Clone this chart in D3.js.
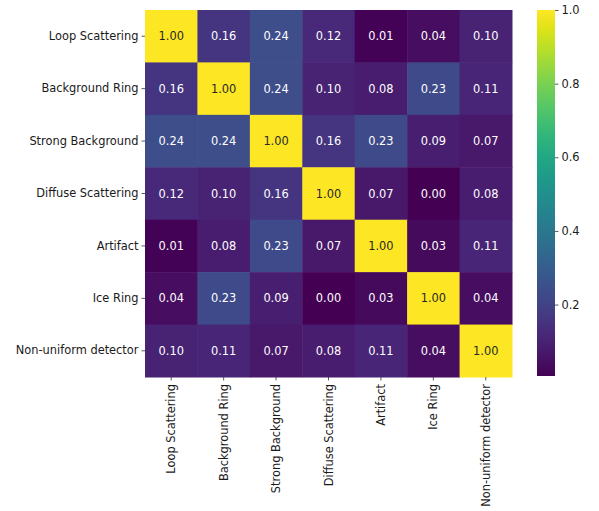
<!DOCTYPE html>
<html>
<head>
<meta charset="utf-8">
<script src="https://cdn.jsdelivr.net/npm/d3@7"></script>
<style>
  html, body { margin: 0; padding: 0; background: #fff; }
  svg { display: block; font-family: "DejaVu Sans", sans-serif; }
</style>
</head>
<body>
<svg id="chart" width="599" height="511"></svg>
<script>
// Category labels (rows and columns share the same order)
const categories = [
  "Loop Scattering", "Background Ring", "Strong Background",
  "Diffuse Scattering", "Artifact", "Ice Ring", "Non-uniform detector"
];

// Correlation matrix, one row per category
const row0 = [1.00, 0.16, 0.24, 0.12, 0.01, 0.04, 0.10];
const row1 = [0.16, 1.00, 0.24, 0.10, 0.08, 0.23, 0.11];
const row2 = [0.24, 0.24, 1.00, 0.16, 0.23, 0.09, 0.07];
const row3 = [0.12, 0.10, 0.16, 1.00, 0.07, 0.00, 0.08];
const row4 = [0.01, 0.08, 0.23, 0.07, 1.00, 0.03, 0.11];
const row5 = [0.04, 0.23, 0.09, 0.00, 0.03, 1.00, 0.04];
const row6 = [0.10, 0.11, 0.07, 0.08, 0.11, 0.04, 1.00];
const matrix = [row0, row1, row2, row3, row4, row5, row6];

// Colour bar range and ticks
const colorMin = 0.006;
const colorMax = 1.0;
const colorTicks = [0.2, 0.4, 0.6, 0.8, 1.0];

const svg = d3.select("#chart");

const plotLeft = 145, plotTop = 10, plotSize = 367;
const fontSize = 11.4;

const x = d3.scaleBand().domain(categories).range([plotLeft, plotLeft + plotSize]);
const y = d3.scaleBand().domain(categories).range([plotTop, plotTop + plotSize]);
const color = d3.scaleSequential(d3.interpolateViridis).domain([colorMin, colorMax]);

const cells = [];
matrix.forEach((r, i) => r.forEach((v, j) => cells.push({ row: categories[i], col: categories[j], v })));

svg.append("g").selectAll("rect").data(cells).join("rect")
  .attr("x", d => x(d.col))
  .attr("y", d => y(d.row))
  .attr("width", x.bandwidth() + 0.5)
  .attr("height", y.bandwidth() + 0.5)
  .attr("fill", d => color(d.v));

svg.append("g").selectAll("text").data(cells).join("text")
  .attr("x", d => x(d.col) + x.bandwidth() / 2)
  .attr("y", d => y(d.row) + y.bandwidth() / 2)
  .attr("text-anchor", "middle")
  .attr("dominant-baseline", "central")
  .attr("font-size", fontSize)
  .attr("fill", d => d.v > 0.6 ? "#262626" : "#ffffff")
  .text(d => d.v.toFixed(2));

// Axes
const yAxis = svg.append("g")
  .attr("transform", `translate(${plotLeft},0)`)
  .call(d3.axisLeft(y).tickSize(3.5).tickPadding(3));
const xAxis = svg.append("g")
  .attr("transform", `translate(0,${plotTop + plotSize})`)
  .call(d3.axisBottom(x).tickSize(3.5).tickPadding(3));

[yAxis, xAxis].forEach(g => {
  g.select(".domain").remove();
  g.selectAll("line").attr("stroke", "#333").attr("stroke-width", 0.8);
  g.selectAll("text").attr("font-size", fontSize).attr("fill", "#1a1a1a")
    .attr("font-family", "DejaVu Sans, sans-serif");
});

xAxis.selectAll("text")
  .attr("transform", "rotate(-90)")
  .attr("text-anchor", "end")
  .attr("dy", "0.35em")
  .attr("x", -7)
  .attr("y", 0);

// Colour bar
const cbX = 537, cbW = 18, cbTop = 10, cbBottom = 376;
const cbScale = d3.scaleLinear().domain([colorMin, colorMax]).range([cbBottom, cbTop]);

const defs = svg.append("defs");
const grad = defs.append("linearGradient")
  .attr("id", "cbgrad").attr("x1", 0).attr("y1", 1).attr("x2", 0).attr("y2", 0);
d3.range(0, 1.0001, 0.05).forEach(t => {
  grad.append("stop").attr("offset", t)
    .attr("stop-color", color(colorMin + t * (colorMax - colorMin)));
});

svg.append("rect")
  .attr("x", cbX).attr("y", cbTop)
  .attr("width", cbW).attr("height", cbBottom - cbTop)
  .attr("fill", "url(#cbgrad)");

const cbAxis = svg.append("g")
  .attr("transform", `translate(${cbX + cbW},0)`)
  .call(d3.axisRight(cbScale).tickValues(colorTicks).tickFormat(d3.format(".1f")).tickSize(3.5).tickPadding(3));
cbAxis.select(".domain").remove();
cbAxis.selectAll("line").attr("stroke", "#333").attr("stroke-width", 0.8);
cbAxis.selectAll("text").attr("font-size", fontSize).attr("fill", "#1a1a1a")
  .attr("font-family", "DejaVu Sans, sans-serif");
</script>
</body>
</html>
